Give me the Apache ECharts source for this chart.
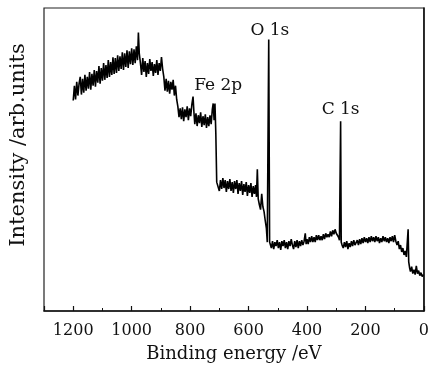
<!DOCTYPE html>
<html>
<head>
<meta charset="utf-8">
<script src="https://cdn.jsdelivr.net/npm/echarts@6/dist/echarts.min.js"></script>
<style>
html,body{margin:0;padding:0;background:#fff;}
#chart{width:432px;height:368px;}
</style>
</head>
<body>
<div id="chart"></div>
<script>
// Binding energy (eV)
var energy = [
1200,1196,1192,1188,1184,1180,1176,1172,1168,1164,1160,1156,1152,1148,1144,1140,1136,1132,1128,1124,1120,1116,1112,1108,1104,1100,
1096,1092,1088,1084,1080,1076,1072,1068,1064,1060,1056,1052,1048,1044,1040,1036,1032,1028,1024,1020,1016,1012,1008,1004,1000,
996,992,988,984,980,977,974,
970,966,962,958,954,950,946,942,938,934,930,926,922,918,914,910,906,902,898,894,
890,886,882,878,874,870,866,862,858,854,850,846,842,838,834,
830,826,822,818,814,810,806,802,798,794,790,787,
784,780,776,772,768,764,760,756,752,748,744,740,736,732,728,724,721,718,715,712,709,
705,700,696,692,688,684,680,676,672,668,664,660,656,652,648,644,640,636,632,628,624,620,616,612,608,604,600,
596,592,588,584,580,576,573,570,567,563,559,555,551,547,543,539,536,534,531,528,525,
522,518,514,510,506,502,498,494,490,486,482,478,474,470,466,462,458,454,450,446,442,438,434,430,426,422,418,414,410,406,403,
400,396,392,388,384,380,376,372,368,364,360,356,352,348,344,340,336,332,328,324,320,316,312,308,304,300,296,292,289,286,285,283,280,
276,272,268,264,260,256,252,248,244,240,236,232,228,224,220,
216,212,208,204,200,196,192,188,184,180,176,172,168,164,160,156,152,148,144,140,136,132,128,124,120,116,112,108,104,100,
96,92,88,84,80,76,72,68,64,60,54,52,49,46,42,38,34,30,26,22,18,14,10,6,2
];
// Intensity (arb. units)
var intensity = [
214,229,215,233,219,231,238,220,236,222,240,224,238,226,243,225,241,229,245,228,244,232,249,231,247,234,
252,235,250,237,255,238,253,240,258,241,257,242,260,244,259,246,263,245,262,248,265,247,264,251,267,
250,266,252,269,255,283,262,
252,240,257,243,254,238,252,241,256,244,253,239,251,242,255,240,252,244,258,246,
238,224,236,223,234,221,233,225,235,219,229,215,208,197,206,
195,207,193,205,197,208,194,206,198,210,218,202,
190,201,188,199,191,202,187,198,189,200,186,197,188,199,190,205,211,194,211,180,131,
132,122,133,124,135,125,133,121,132,124,134,122,131,120,132,124,133,119,130,122,132,118,129,121,131,117,128,
120,130,116,127,119,128,116,144,114,108,103,119,106,101,92,84,70,68,276,70,67,
64,71,63,70,66,72,64,70,62,71,66,72,64,70,63,71,66,73,67,63,71,65,72,64,71,66,72,67,71,79,68,
73,68,75,70,76,70,75,70,77,72,77,72,76,72,78,73,79,75,78,75,81,76,82,78,83,79,78,75,72,70,193,70,67,
64,70,65,71,63,69,65,71,66,72,67,65,72,67,73,
68,74,69,75,70,74,69,75,70,76,71,75,70,76,71,75,69,74,70,76,71,75,70,74,69,75,71,76,70,77,
71,67,71,63,67,60,64,57,61,55,83,50,44,40,45,38,42,37,46,38,41,36,39,35,37
];
var xTicks = [0, 200, 400, 600, 800, 1000, 1200];
var peakLabels = ['Fe 2p', 'O 1s', 'C 1s'];
var peakLabelAt = [[704, 229], [527, 285], [285, 205]];

var data = energy.map(function (e, i) { return [e, intensity[i]]; });
var font = 'DejaVu Serif';

var chart = echarts.init(document.getElementById('chart'), null, {renderer: 'canvas'});
chart.setOption({
  animation: false,
  backgroundColor: '#fff',
  grid: {left: 44, right: 5, top: 8, bottom: 52, show: true, borderColor: '#222', borderWidth: 1.2},
  xAxis: {
    type: 'value', inverse: true, min: 0, max: 1300, interval: 200,
    axisLine: {show: true, onZero: false, lineStyle: {color: '#111', width: 1.5}},
    axisTick: {show: true, inside: true, length: 5, lineStyle: {color: '#111', width: 1.2}},
    minorTick: {show: true, splitNumber: 2, length: 3, lineStyle: {color: '#111', width: 1}},
    splitLine: {show: false},
    axisLabel: {
      color: '#111', fontFamily: font, fontSize: 16, margin: 12, showMaxLabel: false,
      formatter: function (v) { return xTicks.indexOf(v) >= 0 ? String(v) : ''; }
    },
    name: 'Binding energy /eV', nameLocation: 'middle', nameGap: 34,
    nameTextStyle: {color: '#111', fontFamily: font, fontSize: 18}
  },
  yAxis: {
    type: 'value', min: 0, max: 308,
    axisLine: {show: true, lineStyle: {color: '#111', width: 1.5}},
    axisTick: {show: false}, axisLabel: {show: false}, splitLine: {show: false}
  },
  graphic: [{
    type: 'text', x: 19, y: 145, rotation: Math.PI / 2,
    style: {text: 'Intensity /arb.units', fill: '#111', font: '21px "DejaVu Serif"', align: 'center', verticalAlign: 'middle'}
  }],
  series: [{
    type: 'line', data: data, showSymbol: false, symbol: 'none',
    lineStyle: {color: '#000', width: 1.6},
    markPoint: {
      symbol: 'circle', symbolSize: 0, itemStyle: {color: 'transparent'},
      label: {show: true, position: 'inside', color: '#111', fontFamily: font, fontSize: 17},
      data: peakLabels.map(function (t, i) {
        return {coord: peakLabelAt[i], value: t, label: {formatter: t}};
      })
    }
  }]
});
</script>
</body>
</html>
